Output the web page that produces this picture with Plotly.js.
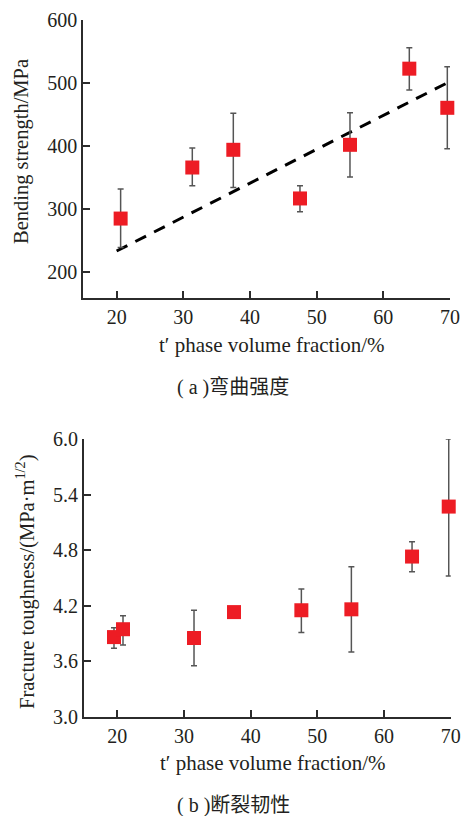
<!DOCTYPE html>
<html>
<head>
<meta charset="utf-8">
<script src="https://cdn.plot.ly/plotly-3.0.1.min.js"></script>
<style>html,body{margin:0;padding:0;background:#fff;}#chart{width:461px;height:816px;}</style>
</head>
<body>
<div id="chart"></div>
<script>
// (a) Bending strength
const bendX = [20.6, 31.35, 37.5, 47.5, 55.0, 63.9, 69.6];
const bendY = [285.5, 366.5, 394.6, 317.4, 402.5, 523.3, 461.2];
const bendErrUp = [47, 31, 58, 20, 51, 33, 65];
const bendErrDown = [46, 29, 60, 21, 51, 34, 65];
const trendX = [20, 70];
const trendY = [234, 503];

// (b) Fracture toughness
const toughX = [19.5, 20.85, 31.5, 37.5, 47.6, 55.1, 64.2, 69.7];
const toughY = [3.86, 3.945, 3.85, 4.13, 4.15, 4.16, 4.73, 5.27];
const toughErrUp = [0.10, 0.145, 0.30, 0, 0.23, 0.46, 0.16, 0.73];
const toughErrDown = [0.12, 0.17, 0.30, 0, 0.24, 0.46, 0.165, 0.75];

const xTicks = [20, 30, 40, 50, 60, 70];
const bendTicks = [200, 300, 400, 500, 600];
const toughTicks = [3.0, 3.6, 4.2, 4.8, 5.4, 6.0];
const toughTickText = ['3.0', '3.6', '4.2', '4.8', '5.4', '6.0'];

const xTitle = 't′ phase volume fraction/%';
const bendTitle = 'Bending strength/MPa';
const toughTitle = 'Fracture toughness/(MPa·m<sup>1/2</sup>)';
const captionA = '( a )弯曲强度';
const captionB = '( b )断裂韧性';

const FONT = '"Liberation Serif", "Times New Roman", "Noto Sans CJK SC", serif';
const TXT = '#231f20';
const RED = '#ed1c24';
const AX = '#2b2b2b';

const markerStyle = {symbol: 'square', size: 14, color: RED, line: {width: 0}};
const errStyle = {color: '#555555', thickness: 1.5, width: 3};

const traces = [
  {x: trendX, y: trendY, mode: 'lines', line: {color: '#000', width: 3, dash: '12px,9px'}, xaxis: 'x', yaxis: 'y', cliponaxis: false},
  {x: bendX, y: bendY, mode: 'markers', marker: markerStyle, xaxis: 'x', yaxis: 'y', cliponaxis: false,
   error_y: Object.assign({type: 'data', symmetric: false, array: bendErrUp, arrayminus: bendErrDown}, errStyle)},
  {x: toughX, y: toughY, mode: 'markers', marker: markerStyle, xaxis: 'x2', yaxis: 'y2', cliponaxis: false,
   error_y: Object.assign({type: 'data', symmetric: false, array: toughErrUp, arrayminus: toughErrDown}, errStyle)}
];

function axisBase() {
  return {
    showline: true, linecolor: AX, linewidth: 2, mirror: false,
    ticks: 'inside', ticklen: 7, tickwidth: 2, tickcolor: AX,
    showgrid: false, zeroline: false,
    tickfont: {family: FONT, size: 20, color: TXT},
    fixedrange: true
  };
}

const layout = {
  width: 461, height: 816,
  margin: {l: 0, r: 0, t: 0, b: 0},
  paper_bgcolor: '#fff', plot_bgcolor: '#fff',
  showlegend: false,
  xaxis: Object.assign(axisBase(), {domain: [0.1807, 0.9761], range: [15, 70], tickvals: xTicks, anchor: 'y'}),
  yaxis: Object.assign(axisBase(), {domain: [0.6352, 0.9751], range: [160, 600], tickvals: bendTicks, anchor: 'x'}),
  xaxis2: Object.assign(axisBase(), {domain: [0.1822, 0.9777], range: [15, 70], tickvals: xTicks, anchor: 'y2'}),
  yaxis2: Object.assign(axisBase(), {domain: [0.1217, 0.4620], range: [3, 6], tickvals: toughTicks, ticktext: toughTickText, anchor: 'x2'}),
  annotations: [
    {text: xTitle, xref: 'paper', yref: 'paper', x: 272 / 461, y: 1 - 345 / 816, showarrow: false,
     font: {family: FONT, size: 21, color: TXT}, xanchor: 'center', yanchor: 'middle'},
    {text: bendTitle, xref: 'paper', yref: 'paper', x: 21 / 461, y: 1 - 152 / 816, showarrow: false, textangle: -90,
     font: {family: FONT, size: 20.5, color: TXT}, xanchor: 'center', yanchor: 'middle'},
    {text: captionA, xref: 'paper', yref: 'paper', x: 233 / 461, y: 1 - 387 / 816, showarrow: false,
     font: {family: FONT, size: 20, color: TXT}, xanchor: 'center', yanchor: 'middle'},
    {text: xTitle, xref: 'paper', yref: 'paper', x: 273 / 461, y: 1 - 763 / 816, showarrow: false,
     font: {family: FONT, size: 21, color: TXT}, xanchor: 'center', yanchor: 'middle'},
    {text: toughTitle, xref: 'paper', yref: 'paper', x: 25 / 461, y: 1 - 582 / 816, showarrow: false, textangle: -90,
     font: {family: FONT, size: 20.5, color: TXT}, xanchor: 'center', yanchor: 'middle'},
    {text: captionB, xref: 'paper', yref: 'paper', x: 233 / 461, y: 1 - 805 / 816, showarrow: false,
     font: {family: FONT, size: 20, color: TXT}, xanchor: 'center', yanchor: 'middle'}
  ]
};

Plotly.newPlot('chart', traces, layout, {displayModeBar: false, staticPlot: true});
</script>
</body>
</html>
